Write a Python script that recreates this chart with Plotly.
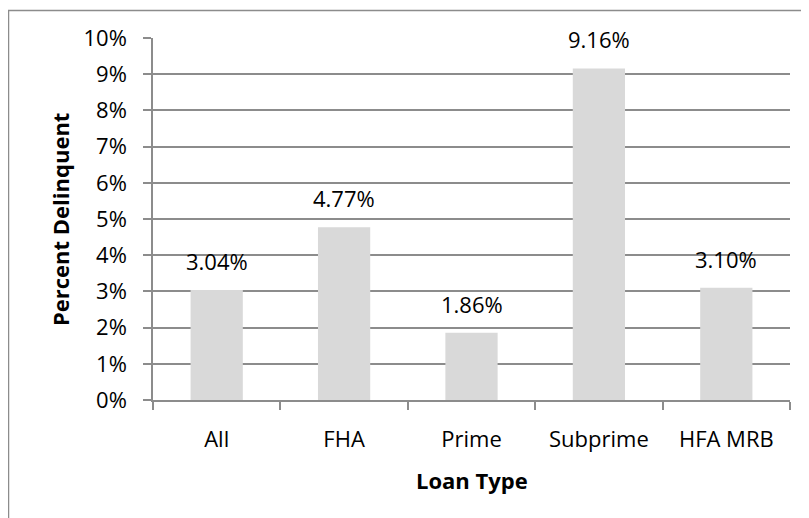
import plotly.graph_objects as go

categories = ["All", "FHA", "Prime", "Subprime", "HFA MRB"]
values = [3.04, 4.77, 1.86, 9.16, 3.10]
y_ticks = [0, 1, 2, 3, 4, 5, 6, 7, 8, 9, 10]

# the page body has an 8px margin, so the figure starts at (8, 8)
OFF = 8
W, H = 809 - OFF, 518 - OFF
L, T = 153 - OFF, 38 - OFF
R = W - (790 - OFF)
B = H - (400 - OFF)
pw, ph = W - L - R, H - T - B

FONT = "Open Sans"
GRAY = "#8c8c8c"
FS = 22

fig = go.Figure()
fig.add_trace(go.Bar(
    x=categories, y=values,
    marker=dict(color="#d9d9d9", line=dict(width=0)),
    hoverinfo="skip",
))

annotations = []
for c, v in zip(categories, values):
    annotations.append(dict(
        x=c, y=v, xref="x", yref="y", text=f"{v:.2f}%",
        showarrow=False, yanchor="bottom", yshift=12,
        font=dict(family=FONT, size=FS, color="#000000"),
    ))

annotations.append(dict(
    x=(60 - OFF - L) / pw, y=0.5, xref="paper", yref="paper",
    text="<b>Percent Delinquent</b>", textangle=-90, showarrow=False,
    xanchor="center", yanchor="middle",
    font=dict(family=FONT, size=FS, color="#000000"),
))
annotations.append(dict(
    x=(472 - OFF - L) / pw, y=(400 - 480) / ph, xref="paper", yref="paper",
    text="<b>Loan Type</b>", showarrow=False,
    xanchor="center", yanchor="middle",
    font=dict(family=FONT, size=FS, color="#000000"),
))

fig.update_layout(
    width=W, height=H,
    margin=dict(l=L, r=R, t=T, b=B, pad=0),
    paper_bgcolor="white", plot_bgcolor="white",
    showlegend=False,
    bargap=0.59,
    annotations=annotations,
    shapes=[dict(
        type="rect", xref="paper", yref="paper",
        x0=(8.5 - OFF - L) / pw, x1=1.1, y0=-0.4, y1=1 + (T - (10.5 - OFF)) / ph,
        line=dict(color=GRAY, width=1.5), fillcolor="rgba(0,0,0,0)",
        layer="below",
    )],
    font=dict(family=FONT, size=FS, color="#000000"),
)

fig.update_yaxes(
    range=[0, 10], tickvals=y_ticks, ticktext=[f"{t}%" for t in y_ticks],
    showgrid=True, gridcolor=GRAY, gridwidth=1.5,
    showline=True, linecolor=GRAY, linewidth=1.5,
    ticks="outside", ticklen=8, tickcolor=GRAY, tickwidth=1.5,
    ticklabelstandoff=12, zeroline=False,
    tickfont=dict(family=FONT, size=FS, color="#000000"),
)
fig.update_xaxes(
    showgrid=False, showline=True, linecolor=GRAY, linewidth=1.5,
    ticks="outside", ticklen=8, tickcolor=GRAY, tickwidth=1.5,
    tickson="boundaries", ticklabelstandoff=19,
    tickfont=dict(family=FONT, size=FS, color="#000000"),
)

fig.write_html("out.html")
